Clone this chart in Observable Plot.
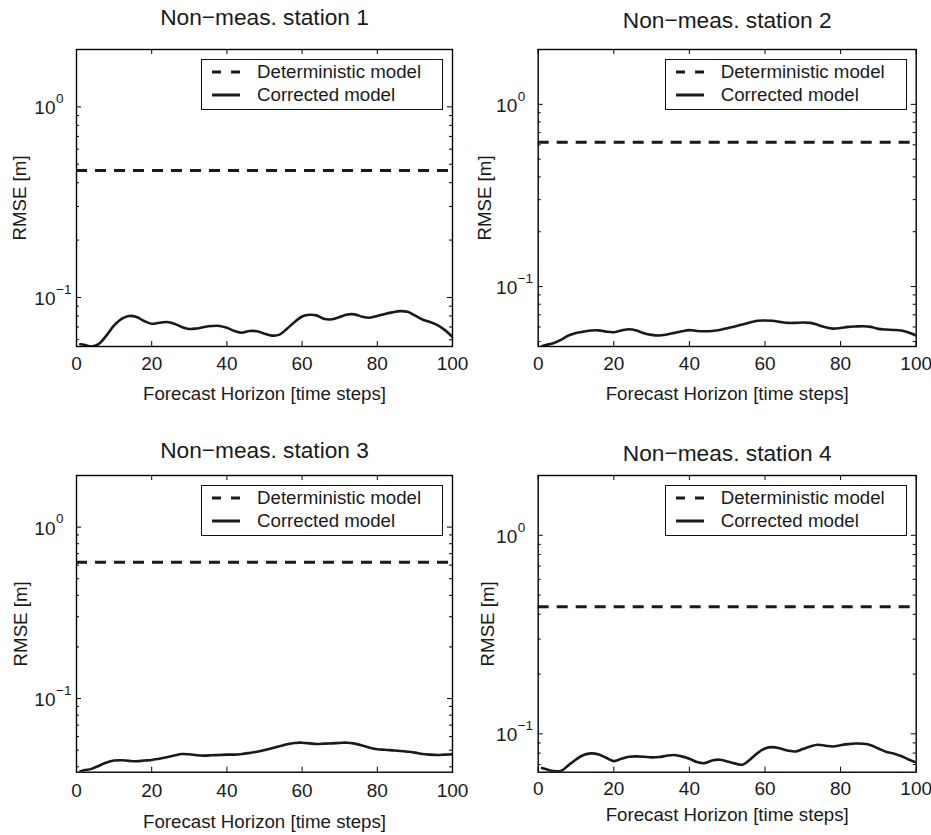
<!DOCTYPE html>
<html>
<head>
<meta charset="utf-8">
<script src="https://cdn.jsdelivr.net/npm/d3@7"></script>
<script src="https://cdn.jsdelivr.net/npm/@observablehq/plot@0.6"></script>
<style>
  html, body { margin: 0; padding: 0; background: #fff; }
  #wrap { position: relative; width: 931px; height: 835px; overflow: hidden; background: #fff; }
  .panel { position: absolute; }
  .legend { position: absolute; box-sizing: border-box; width: 242px; height: 51px; border: 1.5px solid #111; background: #fff;
            font-family: 'Liberation Sans', Arial, Helvetica, sans-serif; font-size: 18.7px; color: #1a1a1a; }
  .legend .sample { position: absolute; left: 10px; }
  .legend .lab { position: absolute; left: 55px; line-height: 20px; white-space: nowrap; }
</style>
</head>
<body>
<div id="wrap"></div>
<script>
// ---------------- data ----------------
const titles = ["Non\u2212meas. station 1", "Non\u2212meas. station 2", "Non\u2212meas. station 3", "Non\u2212meas. station 4"];
const legendLabels = ["Deterministic model", "Corrected model"];
const xLabel = "Forecast Horizon [time steps]";
const yLabel = "RMSE [m]";
const xTicks = [0, 20, 40, 60, 80, 100];
const yMajorTicks = [0.1, 1];
const yTickExponents = ["\u22121", "0"];
const yMinorTicks = [0.03, 0.04, 0.05, 0.06, 0.07, 0.08, 0.09, 0.2, 0.3, 0.4, 0.5, 0.6, 0.7, 0.8, 0.9, 2];
const yMin = [0.0553, 0.0469, 0.0372, 0.0641];
const yMax = 2;

const steps = [1, 2, 4, 6, 8, 10, 12, 14, 16, 18, 20, 22, 24, 26, 28, 30, 32, 34, 36, 38, 40, 42, 44, 46, 48, 50,
               52, 54, 56, 58, 60, 62, 64, 66, 68, 70, 72, 74, 76, 78, 80, 82, 84, 86, 88, 90, 92, 94, 96, 98, 100];

const deterministic = [0.464, 0.619, 0.624, 0.437];

const corrected1 = [0.0568, 0.0565, 0.0553, 0.0572, 0.0633, 0.0713, 0.0773, 0.0800, 0.0789, 0.0752, 0.0728, 0.0737, 0.0743,
  0.0728, 0.0700, 0.0683, 0.0688, 0.0700, 0.0708, 0.0709, 0.0693, 0.0667, 0.0653, 0.0667, 0.0665, 0.0646, 0.0631, 0.0638,
  0.0686, 0.0743, 0.0795, 0.0811, 0.0803, 0.0770, 0.0768, 0.0789, 0.0814, 0.0815, 0.0792, 0.0783, 0.0800, 0.0819, 0.0835,
  0.0848, 0.0841, 0.0805, 0.0766, 0.0743, 0.0716, 0.0674, 0.0620];
const corrected2 = [0.0471, 0.0478, 0.0489, 0.0510, 0.0539, 0.0557, 0.0566, 0.0574, 0.0575, 0.0566, 0.0562, 0.0574, 0.0583,
  0.0574, 0.0554, 0.0543, 0.0539, 0.0546, 0.0557, 0.0569, 0.0577, 0.0571, 0.0569, 0.0571, 0.0578, 0.0591, 0.0604, 0.0619,
  0.0635, 0.0649, 0.0651, 0.0649, 0.0640, 0.0632, 0.0632, 0.0635, 0.0632, 0.0616, 0.0598, 0.0588, 0.0593, 0.0601, 0.0604,
  0.0606, 0.0601, 0.0586, 0.0581, 0.0578, 0.0574, 0.0560, 0.0539];
const corrected3 = [0.0376, 0.0382, 0.0389, 0.0406, 0.0424, 0.0435, 0.0437, 0.0433, 0.0431, 0.0435, 0.0438, 0.0446, 0.0455,
  0.0465, 0.0475, 0.0473, 0.0467, 0.0465, 0.0467, 0.0469, 0.0471, 0.0471, 0.0475, 0.0482, 0.0490, 0.0501, 0.0513, 0.0527,
  0.0541, 0.0551, 0.0553, 0.0548, 0.0543, 0.0546, 0.0548, 0.0551, 0.0553, 0.0546, 0.0533, 0.0517, 0.0506, 0.0503, 0.0499,
  0.0495, 0.0490, 0.0484, 0.0475, 0.0471, 0.0469, 0.0471, 0.0473];
const corrected4 = [0.0673, 0.0665, 0.0650, 0.0650, 0.0694, 0.0743, 0.0782, 0.0797, 0.0788, 0.0758, 0.0729, 0.0749, 0.0767,
  0.0770, 0.0767, 0.0761, 0.0764, 0.0776, 0.0782, 0.0770, 0.0749, 0.0721, 0.0712, 0.0735, 0.0741, 0.0726, 0.0710, 0.0699,
  0.0741, 0.0800, 0.0844, 0.0857, 0.0844, 0.0825, 0.0815, 0.0838, 0.0864, 0.0881, 0.0871, 0.0864, 0.0877, 0.0888, 0.0894,
  0.0891, 0.0877, 0.0844, 0.0812, 0.0797, 0.0773, 0.0743, 0.0718];
const corrected = [corrected1, corrected2, corrected3, corrected4];

// ---------------- layout ----------------
const layout = [
  {left: 0,   top: 0,   width: 465, height: 415, ml: 76,   mr: 13,   mt: 49, mb: 69,   titleDy: -32, tickDy: 17.5, xlabDy: 47.5, ylabDx: -56},
  {left: 465, top: 0,   width: 466, height: 415, ml: 72.7, mr: 15.3, mt: 49, mb: 69,   titleDy: -29, tickDy: 17.5, xlabDy: 47.5, ylabDx: -52.7},
  {left: 0,   top: 415, width: 465, height: 420, ml: 76,   mr: 13,   mt: 60, mb: 63.3, titleDy: -25, tickDy: 18.3, xlabDy: 50,   ylabDx: -55},
  {left: 465, top: 415, width: 466, height: 420, ml: 72.7, mr: 15.3, mt: 60, mb: 63.3, titleDy: -22, tickDy: 16.7, xlabDy: 43.3, ylabDx: -50.4}
];

const fontFamily = "'Liberation Sans', Arial, Helvetica, sans-serif";
const ink = "#1a1a1a";
const wrap = document.getElementById("wrap");

layout.forEach((cfg, i) => {
  const fw = cfg.width - cfg.ml - cfg.mr;
  const fh = cfg.height - cfg.mt - cfg.mb;
  const rows = steps.map((s, j) => ({step: s, rmse: corrected[i][j]}));
  const minor = yMinorTicks.filter(v => v >= yMin[i] && v <= yMax);
  const major = yMajorTicks.map((v, k) => ({v, e: yTickExponents[k]})).filter(d => d.v >= yMin[i] && d.v <= yMax);

  const chart = Plot.plot({
    width: cfg.width, height: cfg.height,
    marginLeft: cfg.ml, marginRight: cfg.mr, marginTop: cfg.mt, marginBottom: cfg.mb,
    style: {fontFamily, fontSize: "18.7px", color: ink, background: "transparent", overflow: "visible"},
    x: {domain: [0, 100], axis: null},
    y: {type: "log", domain: [yMin[i], yMax], axis: null},
    marks: [
      Plot.ruleY([deterministic[i]], {y: d => d, stroke: ink, strokeWidth: 3, strokeDasharray: "11,8"}),
      Plot.line(rows, {x: "step", y: "rmse", stroke: ink, strokeWidth: 2.6, curve: "catmull-rom", clip: true}),
      // inward ticks
      Plot.tickX(xTicks, {x: d => d, insetTop: fh - 5, stroke: "#000", strokeWidth: 1}),
      Plot.tickX(xTicks, {x: d => d, insetBottom: fh - 5, stroke: "#000", strokeWidth: 1}),
      Plot.tickY(major, {y: "v", insetRight: fw - 5, stroke: "#000", strokeWidth: 1}),
      Plot.tickY(major, {y: "v", insetLeft: fw - 5, stroke: "#000", strokeWidth: 1}),
      Plot.tickY(minor, {y: d => d, insetRight: fw - 3, stroke: "#000", strokeWidth: 1}),
      Plot.tickY(minor, {y: d => d, insetLeft: fw - 3, stroke: "#000", strokeWidth: 1}),
      Plot.frame({stroke: "#000", strokeWidth: 1.4}),
      // x tick labels
      Plot.text(xTicks, {x: d => d, text: d => String(d), frameAnchor: "bottom", dy: cfg.tickDy, lineAnchor: "middle", fill: ink, fontSize: 19}),
      // y tick labels 10^k
      Plot.text(major, {y: "v", text: () => "10", frameAnchor: "left", textAnchor: "end", dx: -21, dy: 1.5, lineAnchor: "middle", fill: ink, fontSize: 19}),
      Plot.text(major, {y: "v", text: "e", frameAnchor: "left", textAnchor: "start", dx: -20.5, dy: -8, lineAnchor: "middle", fill: ink, fontSize: 13.5}),
      // axis labels and title
      Plot.text([xLabel], {frameAnchor: "bottom", dy: cfg.xlabDy, lineAnchor: "middle", fill: ink, fontSize: 18.7}),
      Plot.text([yLabel], {frameAnchor: "left", dx: cfg.ylabDx, rotate: -90, textAnchor: "middle", lineAnchor: "middle", fill: ink, fontSize: 18.7}),
      Plot.text([titles[i]], {frameAnchor: "top", dy: cfg.titleDy, lineAnchor: "middle", fill: ink, fontSize: 22.7})
    ]
  });

  const div = document.createElement("div");
  div.className = "panel";
  div.style.left = cfg.left + "px";
  div.style.top = cfg.top + "px";
  div.style.width = cfg.width + "px";
  div.style.height = cfg.height + "px";
  div.appendChild(chart);

  // legend (inside frame, upper right)
  const lg = document.createElement("div");
  lg.className = "legend";
  lg.style.left = (cfg.width - cfg.mr - 9 - 242) + "px";
  lg.style.top = (cfg.mt + 10) + "px";
  const rowsY = [13.3, 36.7];
  legendLabels.forEach((lab, k) => {
    const s = document.createElementNS("http://www.w3.org/2000/svg", "svg");
    s.setAttribute("width", "28"); s.setAttribute("height", "6");
    s.setAttribute("class", "sample");
    s.style.top = (rowsY[k] - 1.5 - 3) + "px";
    const ln = document.createElementNS("http://www.w3.org/2000/svg", "line");
    ln.setAttribute("x1", "0"); ln.setAttribute("x2", "28");
    ln.setAttribute("y1", "3"); ln.setAttribute("y2", "3");
    ln.setAttribute("stroke", ink); ln.setAttribute("stroke-width", "3");
    if (k === 0) ln.setAttribute("stroke-dasharray", "9,10");
    s.appendChild(ln);
    lg.appendChild(s);
    const t = document.createElement("div");
    t.className = "lab";
    t.textContent = lab;
    t.style.top = (rowsY[k] - 1.5 - 10) + "px";
    lg.appendChild(t);
  });
  div.appendChild(lg);
  wrap.appendChild(div);
});
</script>
</body>
</html>
